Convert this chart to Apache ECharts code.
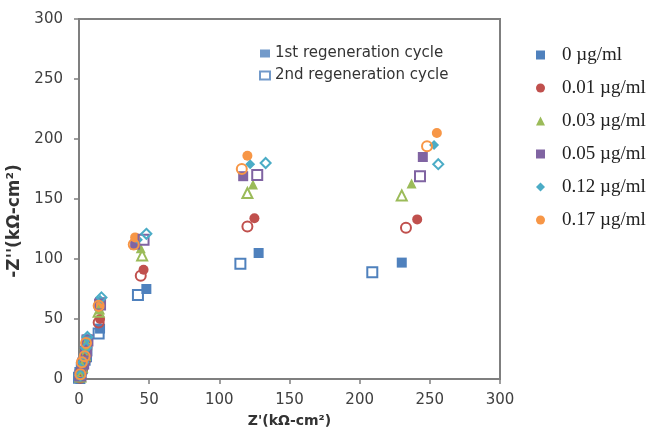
<!DOCTYPE html>
<html>
<head>
<meta charset="utf-8">
<script src="https://cdn.jsdelivr.net/npm/echarts@6/dist/echarts.min.js"></script>
<style>
html, body { margin: 0; padding: 0; background: #fff; }
#chart { width: 654px; height: 440px; }
</style>
</head>
<body>
<div id="chart"></div>
<script>
// legend names
const concNames = ['0 µg/ml', '0.01 µg/ml', '0.03 µg/ml', '0.05 µg/ml', '0.12 µg/ml', '0.17 µg/ml'];
const cycleNames = ['1st regeneration cycle', '2nd regeneration cycle'];
const axisTicks = [0, 50, 100, 150, 200, 250, 300];

// 1st regeneration cycle, [Z', -Z''] in kΩ-cm2
const c1_0 = [[1, 0], [1, 3], [2, 7], [3, 12], [5, 20], [6, 23], [15, 42], [48, 75], [128, 105], [230, 97]];
const c1_001 = [[1, 2], [2, 9], [4, 18], [6, 26], [15, 50], [46, 91], [125, 134], [241, 133]];
const c1_003 = [[1, 3], [3, 11], [5, 22], [6, 31], [15, 58], [44, 109], [124, 162], [237, 163]];
const c1_005 = [[1, 4], [3, 12], [5, 24], [6, 33], [15, 64], [40, 112], [117, 169], [245, 185]];
const c1_012 = [[1, 4], [3, 13], [5, 25], [6, 34], [15, 66], [42, 116], [122, 179], [253, 195]];
const c1_017 = [[1, 5], [3, 15], [4, 17], [5, 27], [14, 60], [40, 118], [120, 186], [255, 205]];

// 2nd regeneration cycle
const c2_0 = [[0, 1], [1, 5], [2, 9], [4, 16], [5, 19], [14, 38], [42, 70], [115, 96], [209, 89]];
const c2_001 = [[1, 1], [2, 7], [4, 15], [5, 24], [14, 47], [44, 86], [120, 127], [233, 126]];
const c2_003 = [[1, 2], [2, 10], [4, 20], [5, 29], [14, 56], [45, 103], [120, 155], [230, 153]];
const c2_005 = [[1, 3], [3, 13], [5, 23], [6, 32], [15, 62], [46, 116], [127, 170], [243, 169]];
const c2_012 = [[1, 3], [3, 14], [5, 26], [6, 35], [16, 68], [48, 121], [133, 180], [256, 179]];
const c2_017 = [[1, 4], [2, 14], [4, 19], [5, 30], [14, 61], [39, 112], [116, 175], [248, 194]];

const cycle1 = [c1_0, c1_001, c1_003, c1_005, c1_012, c1_017];
const cycle2 = [c2_0, c2_001, c2_003, c2_005, c2_012, c2_017];

const colors = ['#4F81BD', '#C0504D', '#9BBB59', '#8064A2', '#4BACC6', '#F79646'];
const symbols = ['rect', 'circle', 'triangle', 'rect', 'diamond', 'circle'];

let series = []
// filled markers (1st cycle)
cycle1.forEach((d, i) => {
    series.push({
        name: concNames[i],
        type: 'scatter',
        data: d,
        symbol: symbols[i],
        symbolSize: 10,
        itemStyle: { color: colors[i], opacity: 1 }
    })
})
// hollow markers (2nd cycle)
cycle2.forEach((d, i) => {
    series.push({
        name: concNames[i] + ' (2nd)',
        type: 'scatter',
        data: d,
        symbol: symbols[i],
        symbolSize: 10,
        itemStyle: { color: 'rgba(255,255,255,0)', borderColor: colors[i], borderWidth: 2, opacity: 1 }
    })
})
// only used for the cycle legend
series.push({
    name: cycleNames[0], type: 'scatter', data: [], symbol: 'rect',
    itemStyle: { color: colors[0] }
})
series.push({
    name: cycleNames[1], type: 'scatter', data: [], symbol: 'rect',
    itemStyle: { color: 'rgba(255,255,255,0)', borderColor: colors[0], borderWidth: 2 }
})

let chart = echarts.init(document.getElementById('chart'), null, { renderer: 'canvas' })
let option = {
    backgroundColor: '#fff',
    animation: false,
    grid: {
        left: 79, right: 154, top: 19, bottom: 61,
        show: true, borderColor: '#7f7f7f', borderWidth: 2,
        outerBoundsMode: 'none'
    },
    legend: [
        {
            data: concNames,
            orient: 'vertical',
            left: 531, top: 39,
            itemWidth: 9, itemHeight: 9,
            itemGap: 11,
            textStyle: {
                fontFamily: 'Liberation Serif', fontSize: 19, color: '#222',
                lineHeight: 22, padding: [0, 0, 0, 12]
            }
        },
        {
            data: cycleNames,
            orient: 'vertical',
            left: 254, top: 40,
            itemWidth: 10, itemHeight: 8,
            itemGap: 5,
            textStyle: {
                fontFamily: 'DejaVu Sans', fontSize: 15, color: '#333', lineHeight: 17
            }
        }
    ],
    xAxis: {
        type: 'value',
        min: axisTicks[0], max: axisTicks[axisTicks.length - 1], interval: 50,
        name: "Z'(kΩ-cm²)",
        nameLocation: 'middle',
        nameGap: 35,
        nameTextStyle: { fontFamily: 'DejaVu Sans', fontWeight: 'bold', fontSize: 14, color: '#333' },
        axisLine: { lineStyle: { color: '#7f7f7f', width: 2 } },
        axisTick: { show: true, inside: false, length: 5, lineStyle: { color: '#7f7f7f', width: 1.5 } },
        axisLabel: { fontFamily: 'DejaVu Sans', fontSize: 15, color: '#404040', margin: 14 },
        splitLine: { show: false }
    },
    yAxis: {
        type: 'value',
        min: axisTicks[0], max: axisTicks[axisTicks.length - 1], interval: 50,
        name: "-Z''(kΩ-cm²)",
        nameLocation: 'middle',
        nameGap: 46,
        nameTextStyle: {
            fontFamily: 'DejaVu Sans', fontWeight: 'bold', fontSize: 17, color: '#333',
            padding: [0, 44, 0, 0]
        },
        axisLine: { lineStyle: { color: '#7f7f7f', width: 2 } },
        axisTick: { show: true, inside: false, length: 5, lineStyle: { color: '#7f7f7f', width: 1.5 } },
        axisLabel: { fontFamily: 'DejaVu Sans', fontSize: 15, color: '#404040', margin: 16 },
        splitLine: { show: false }
    },
    series: series
}
chart.setOption(option)
</script>
</body>
</html>
